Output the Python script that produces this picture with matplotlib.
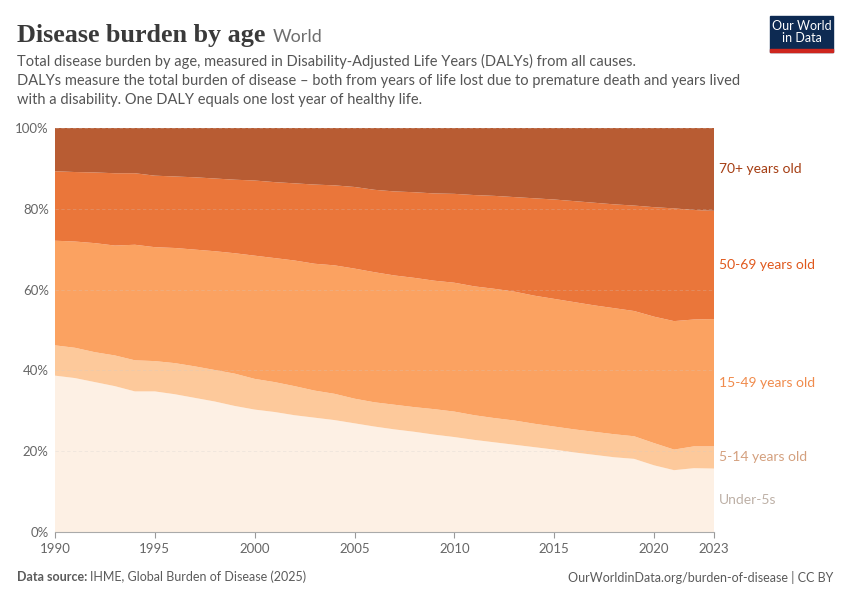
import numpy as np
import matplotlib.pyplot as plt
from matplotlib.patches import Rectangle

# shares of total DALYs by age group (%)
years = list(range(1990, 2024))
under5 = [38.7, 38.1, 37.1, 36.1, 34.8, 34.8, 34.1, 33.2, 32.3, 31.2, 30.3, 29.7,
          28.9, 28.3, 27.7, 26.9, 26.1, 25.4, 24.8, 24.1, 23.5, 22.8, 22.2, 21.6,
          21.0, 20.4, 19.7, 19.1, 18.5, 18.1, 16.5, 15.3, 15.8, 15.7]
age5_14 = [7.5, 7.5, 7.4, 7.6, 7.7, 7.5, 7.7, 7.8, 7.8, 8.0, 7.6, 7.4,
           7.2, 6.7, 6.5, 6.1, 6.0, 6.1, 6.1, 6.3, 6.3, 6.1, 6.0, 6.0,
           5.8, 5.7, 5.7, 5.7, 5.7, 5.6, 5.5, 5.1, 5.4, 5.5]
age15_49 = [25.9, 26.3, 27.0, 27.2, 28.6, 28.2, 28.5, 28.9, 29.4, 29.8, 30.5, 30.7,
            31.1, 31.4, 31.8, 32.2, 32.2, 32.0, 32.0, 31.8, 31.9, 31.9, 32.0, 31.9,
            31.7, 31.6, 31.5, 31.3, 31.2, 31.0, 31.3, 31.8, 31.4, 31.5]
age50_69 = [17.2, 17.2, 17.5, 17.9, 17.7, 17.7, 17.7, 17.9, 18.0, 18.2, 18.6, 18.8,
            19.1, 19.6, 19.8, 20.2, 20.4, 20.8, 21.2, 21.6, 22.0, 22.6, 23.0, 23.4,
            24.1, 24.6, 25.0, 25.4, 25.7, 26.1, 27.1, 27.9, 27.1, 26.8]
age70 = [10.7, 10.9, 11.0, 11.2, 11.2, 11.8, 12.0, 12.2, 12.5, 12.8, 13.0, 13.4,
         13.7, 14.0, 14.2, 14.6, 15.3, 15.7, 15.9, 16.2, 16.3, 16.6, 16.8, 17.1,
         17.4, 17.7, 18.1, 18.5, 18.9, 19.2, 19.6, 19.9, 20.3, 20.5]

labels = ["Under-5s", "5-14 years old", "15-49 years old", "50-69 years old", "70+ years old"]
fill_colors = ["#FDF0E4", "#FDC99B", "#FBA261", "#EA763A", "#B85C33"]
label_colors = ["#BDB0A6", "#D4A07E", "#F08B4C", "#E0581C", "#A53D12"]
xticks = [1990, 1995, 2000, 2005, 2010, 2015, 2020, 2023]

series = [under5, age5_14, age15_49, age50_69, age70]
# stacked shares may not add to exactly 100 after reading; normalise
data = np.array(series)
data = data / data.sum(axis=0) * 100

fig = plt.figure(figsize=(8.5, 6), dpi=100)
ax = fig.add_axes([55 / 850, 1 - 532 / 600, (714 - 55) / 850, (532 - 128) / 600])

ax.stackplot(years, data, colors=fill_colors, linewidth=0)

ax.set_xlim(1990, 2023)
ax.set_ylim(0, 100)
ax.set_yticks([0, 20, 40, 60, 80, 100])
ax.set_yticklabels([f"{v}%" for v in [0, 20, 40, 60, 80, 100]])
ax.set_xticks(xticks)
ax.set_xticklabels([str(y) for y in xticks])
for g in [20, 40, 60, 80, 100]:
    ax.axhline(g, color="#cccccc", lw=0.6, ls=(0, (4, 3)), zorder=3, alpha=0.3)
ax.tick_params(axis="y", length=0, labelsize=9.5, labelcolor="#666666", pad=4.5)
ax.tick_params(axis="x", length=4, color="#999999", labelsize=9.5, labelcolor="#666666", pad=4)
for lab in ax.get_xticklabels() + ax.get_yticklabels():
    lab.set_family("Lato")
for s in ["top", "right", "left"]:
    ax.spines[s].set_visible(False)
ax.spines["bottom"].set_color("#aaaaaa")

# right-hand labels at the middle of each band in the final year
tops = np.cumsum(data[:, -1])
mids = tops - data[:, -1] / 2
for lab, col, m in zip(labels, label_colors, mids):
    ax.text(1.008, m, lab, transform=ax.get_yaxis_transform(), color=col,
            fontsize=10, family="Lato", va="center", ha="left")

# header
fig.text(17 / 850, 1 - 42 / 600, "Disease burden by age", family="Liberation Serif",
         fontsize=18.8, weight="bold", color="#3a3a3a", va="baseline")
fig.text(273 / 850, 1 - 42 / 600, "World", family="Lato", fontsize=13,
         color="#6e6e6e", va="baseline")
sub = ("Total disease burden by age, measured in Disability-Adjusted Life Years (DALYs) from all causes.\n"
       "DALYs measure the total burden of disease \u2013 both from years of life lost due to premature death and years lived\n"
       "with a disability. One DALY equals one lost year of healthy life.")
fig.text(17 / 850, 1 - 54 / 600, sub, family="Lato", fontsize=10.5, color="#555555",
         va="top", linespacing=1.45)

# logo
fig.patches.append(Rectangle((770 / 850, 1 - 52 / 600), 63 / 850, 36 / 600,
                             transform=fig.transFigure, color="#0D2A52", zorder=5))
fig.patches.append(Rectangle((770 / 850, 1 - 52 / 600), 63 / 850, 3 / 600,
                             transform=fig.transFigure, color="#CE261E", zorder=6))
fig.text(801.5 / 850, 1 - 32 / 600, "Our World\nin Data", family="Lato", fontsize=9,
         color="white", ha="center", va="center", linespacing=1.0, zorder=7)

# footer
fig.text(17 / 850, 1 - 577 / 600, "Data source:", family="Lato", fontsize=9,
         color="#5b5b5b", weight="bold", va="center")
fig.text(90 / 850, 1 - 577 / 600, "IHME, Global Burden of Disease (2025)", family="Lato",
         fontsize=9, color="#5b5b5b", va="center")
fig.text(833 / 850, 1 - 577 / 600, "OurWorldinData.org/burden-of-disease | CC BY",
         family="Lato", fontsize=9, color="#5b5b5b", va="center", ha="right")

fig.savefig("out.png", dpi=100)
